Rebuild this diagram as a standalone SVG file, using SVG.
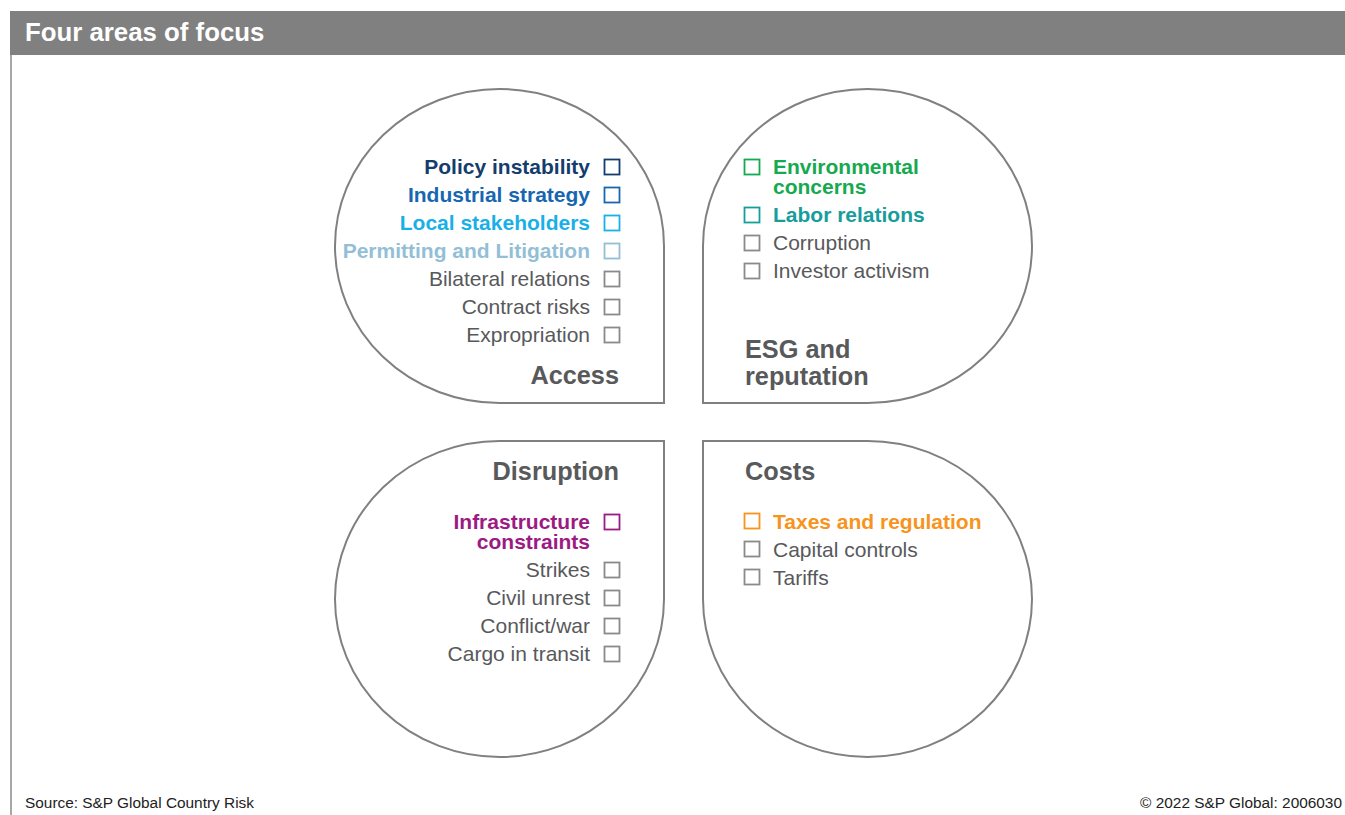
<svg xmlns="http://www.w3.org/2000/svg" width="1345" height="815" viewBox="0 0 1345 815">
<style>
.shape{fill:#fff;stroke:#808080;stroke-width:2}
.it{font-family:"Liberation Sans",Arial,sans-serif;font-size:21px;fill:#58595b}
.b{font-weight:bold}
.ttl{font-family:"Liberation Sans",Arial,sans-serif;font-size:25.3px;font-weight:bold;fill:#58595b}
.r{text-anchor:end}
.sq{fill:none;stroke-width:1.8;stroke:#8a8a8a}
.foot{font-family:"Liberation Sans",Arial,sans-serif;font-size:15.4px;fill:#222}
</style>
<rect x="0" y="0" width="1345" height="815" fill="#fff"/>
<g id="header">
<rect x="10" y="11" width="1335" height="44" fill="#808080"/>
<text x="25" y="41" font-family="Liberation Sans, Arial, sans-serif" font-size="25.8" font-weight="bold" fill="#fff">Four areas of focus</text>
<line x1="11" y1="55" x2="11" y2="815" stroke="#8a8a8a" stroke-width="1.5"/>
</g>
<g id="connectors"></g>
<g id="access">
<path class="shape" d="M664,246 L664,403 L499.5,403 A164.5 157 0 1 1 664,246 Z"/>
<text class="it b r" x="590" y="174" style="fill:#143d6d">Policy instability</text>
<text class="it b r" x="590" y="202" style="fill:#1766b1">Industrial strategy</text>
<text class="it b r" x="590" y="230" style="fill:#19b0e8">Local stakeholders</text>
<text class="it b r" x="590" y="258" style="fill:#93bfd6">Permitting and Litigation</text>
<text class="it r" x="590" y="286">Bilateral relations</text>
<text class="it r" x="590" y="314">Contract risks</text>
<text class="it r" x="590" y="342">Expropriation</text>
<rect class="sq" x="604.5" y="159.5" width="15" height="15" style="stroke:#143d6d"/>
<rect class="sq" x="604.5" y="187.5" width="15" height="15" style="stroke:#1766b1"/>
<rect class="sq" x="604.5" y="215.5" width="15" height="15" style="stroke:#19b0e8"/>
<rect class="sq" x="604.5" y="243.5" width="15" height="15" style="stroke:#93bfd6"/>
<rect class="sq" x="604.5" y="271.5" width="15" height="15"/>
<rect class="sq" x="604.5" y="299.5" width="15" height="15"/>
<rect class="sq" x="604.5" y="327.5" width="15" height="15"/>
<text class="ttl r" x="619" y="384">Access</text>
</g>
<g id="esg">
<path class="shape" d="M703,246 L703,403 L867.5,403 A164.5 157 0 1 0 703,246 Z"/>
<rect class="sq" x="744.5" y="159.5" width="15" height="15" style="stroke:#16a94f"/>
<rect class="sq" x="744.5" y="207.5" width="15" height="15" style="stroke:#179d9c"/>
<rect class="sq" x="744.5" y="235.5" width="15" height="15"/>
<rect class="sq" x="744.5" y="263.5" width="15" height="15"/>
<text class="it b" x="773" y="174" style="fill:#16a94f">Environmental<tspan x="773" dy="20">concerns</tspan></text>
<text class="it b" x="773" y="222" style="fill:#179d9c">Labor relations</text>
<text class="it" x="773" y="250">Corruption</text>
<text class="it" x="773" y="278">Investor activism</text>
<text class="ttl" x="745" y="358">ESG and<tspan x="745" dy="27">reputation</tspan></text>
</g>
<g id="disruption">
<path class="shape" d="M664,599 L664,441 L499.5,441 A164.5 158 0 1 0 664,599 Z"/>
<text class="ttl r" x="619" y="480">Disruption</text>
<text class="it b r" x="590" y="529" style="fill:#9b1b83">Infrastructure<tspan x="590" dy="20">constraints</tspan></text>
<text class="it r" x="590" y="577">Strikes</text>
<text class="it r" x="590" y="605">Civil unrest</text>
<text class="it r" x="590" y="633">Conflict/war</text>
<text class="it r" x="590" y="661">Cargo in transit</text>
<rect class="sq" x="604.5" y="514.5" width="15" height="15" style="stroke:#9b1b83"/>
<rect class="sq" x="604.5" y="562.5" width="15" height="15"/>
<rect class="sq" x="604.5" y="590.5" width="15" height="15"/>
<rect class="sq" x="604.5" y="618.5" width="15" height="15"/>
<rect class="sq" x="604.5" y="646.5" width="15" height="15"/>
</g>
<g id="costs">
<path class="shape" d="M703,599 L703,441 L867.5,441 A164.5 158 0 1 1 703,599 Z"/>
<text class="ttl" x="745" y="480">Costs</text>
<rect class="sq" x="744.5" y="513.5" width="15" height="15" style="stroke:#f7941d"/>
<rect class="sq" x="744.5" y="541.5" width="15" height="15"/>
<rect class="sq" x="744.5" y="569.5" width="15" height="15"/>
<text class="it b" x="773" y="529" style="fill:#f7941d">Taxes and regulation</text>
<text class="it" x="773" y="557">Capital controls</text>
<text class="it" x="773" y="585">Tariffs</text>
</g>
<g id="footer">
<text class="foot" x="25" y="808">Source: S&amp;P Global Country Risk</text>
<text class="foot" x="1342" y="808" text-anchor="end">© 2022 S&amp;P Global: 2006030</text>
</g>
</svg>
